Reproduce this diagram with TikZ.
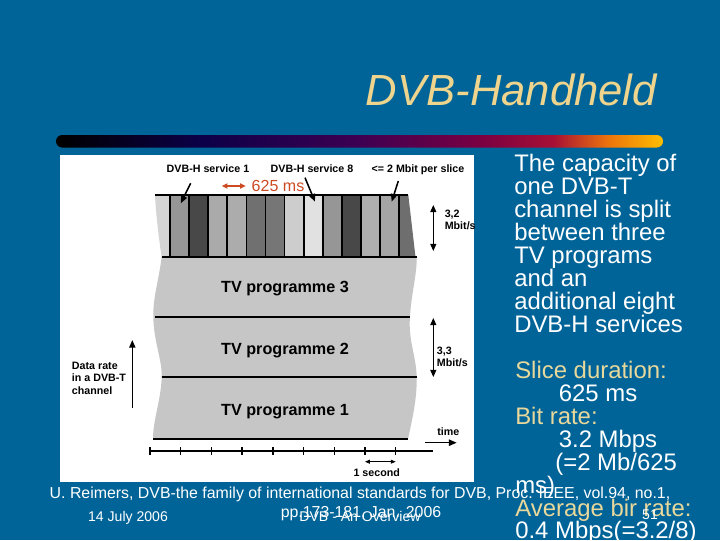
\documentclass[tikz,border=0pt]{standalone}
\usepackage{fontspec}
\setmainfont{Liberation Sans}
\usetikzlibrary{arrows.meta}
\definecolor{slideblue}{RGB}{0,100,152}
\definecolor{titletan}{RGB}{238,212,140}
\definecolor{keytan}{RGB}{232,216,156}
\definecolor{msred}{RGB}{205,75,35}
\definecolor{tvgray}{RGB}{198,198,198}
\definecolor{barnavy}{RGB}{12,0,72}
\definecolor{barpurple}{RGB}{62,0,82}
\definecolor{barwine}{RGB}{122,0,66}
\definecolor{barred}{RGB}{168,16,52}
\definecolor{barorange}{RGB}{236,116,12}
\definecolor{bargold}{RGB}{255,190,0}
\pgfdeclarehorizontalshading{rulebar}{100bp}{color(0bp)=(black); color(25bp)=(black); color(37bp)=(barnavy); color(50bp)=(barpurple); color(60bp)=(barwine); color(66bp)=(barred); color(70.5bp)=(barorange); color(75bp)=(bargold); color(100bp)=(bargold)}
\tikzset{
  titletext/.style={font=\fontsize{31}{36}\selectfont\itshape, text=titletan, inner sep=0pt},
  bodytext/.style={font=\fontsize{17}{16.3}\selectfont, text=white, align=left, inner sep=0pt},
  foottext/.style={font=\fontsize{10}{12}\selectfont, text=white, inner sep=0pt},
  citetext/.style={font=\fontsize{11.3}{13}\selectfont, text=white, inner sep=0pt},
  figlabel/.style={font=\fontsize{7.6}{8.9}\selectfont\bfseries, align=left, inner sep=0pt},
  tvlabel/.style={font=\fontsize{11.5}{13}\selectfont\bfseries, inner sep=0pt},
  mslabel/.style={font=\fontsize{11.4}{13}\selectfont, text=msred, inner sep=0pt},
  band/.style={line width=1.4pt, line cap=butt},
  slotline/.style={line width=1.2pt},
  pointer/.style={line width=1.1pt, -{Triangle[length=5.5pt,width=4.4pt]}},
  ratearrow/.style={line width=0.8pt, {Triangle[length=5pt,width=4.2pt]}-{Triangle[length=5pt,width=4.2pt]}},
  msarrow/.style={line width=1.1pt, draw=msred, {Triangle[length=4pt,width=3.6pt]}-{Triangle[length=4pt,width=3.6pt]}},
  secarrow/.style={line width=0.6pt, {Triangle[length=3.5pt,width=2.8pt]}-{Triangle[length=3.5pt,width=2.8pt]}},
  axisline/.style={line width=1pt},
}

\begin{document}
\begin{tikzpicture}[x=0.025cm,y=-0.025cm]
\useasboundingbox (0,0) rectangle (720,540);
\fill[slideblue] (0,0) rectangle (720,540);
\node[titletext, anchor=base east] (title) at (657,105) {DVB-Handheld};
\shade[shading=rulebar, rounded corners=4.4pt] (56,135) rectangle (663,147.5);
\fill[white] (60,155) rectangle (474,482);
\fill[tvgray] (161.7,257) .. controls (158,285) and (152,300) .. (153.5,322) .. controls (155,345) and (162,360) .. (161.7,377) .. controls (161,400) and (153,420) .. (153,439) -- (408,439) .. controls (412,420) and (417,400) .. (416.7,377) .. controls (416,355) and (408,340) .. (410,317) .. controls (411,295) and (417,275) .. (416.7,257) -- cycle;
\fill[fill={rgb,255:red,212;green,212;blue,212}] (170,195) -- (155,195) .. controls (156,215) and (159,240) .. (161.7,257) -- (170,257) -- cycle;
\foreach \k/\g in {0/150,1/72,2/170,3/172,4/112,5/118,6/205,7/225,8/150,9/72,10/175,11/165}
  \fill[fill={rgb,255:red,\g;green,\g;blue,\g}] (170+19.1*\k,195) rectangle (189.1+19.1*\k,257);
\fill[fill={rgb,255:red,110;green,110;blue,110}] (399.2,195) -- (408.3,195) -- (415.5,257) -- (399.2,257) -- cycle;
\foreach \k in {0,...,12}
  \draw[slotline] (170+19.1*\k,195) -- (170+19.1*\k,257);
\draw[band] (155,195) -- (408.3,195);
\draw[band] (161.7,257) -- (416.7,257);
\draw[band] (155,317) -- (410,317);
\draw[band] (161.7,377) -- (416.7,377);
\draw[band] (153,439) -- (408,439);
\node[figlabel, anchor=base] (svcone) at (208,172.5) {DVB-H service 1};
\node[figlabel, anchor=base] (svceight) at (312,172.5) {DVB-H service 8};
\node[figlabel, anchor=base] (slicecap) at (418,172.5) {<= 2 Mbit per slice};
\node[mslabel, anchor=base] (slicems) at (278,191.7) {625 ms};
\coordinate (msleft) at (221.7,186);
\coordinate (msright) at (245.7,186);
\draw[msarrow] (msleft) -- (msright);
\coordinate (svconefoot) at (190.7,183.3);
\coordinate (svconetip) at (180.7,203.3);
\coordinate (svceightfoot) at (305,177.7);
\coordinate (svceighttip) at (315,201.7);
\coordinate (slicefoot) at (398.3,181);
\coordinate (slicetip) at (391.7,201.7);
\draw[pointer] (svconefoot) -- (svconetip);
\draw[pointer] (svceightfoot) -- (svceighttip);
\draw[pointer] (slicefoot) -- (slicetip);
\node[figlabel, anchor=north west] (hrate) at (444.5,209.3) {3,2\\Mbit/s};
\coordinate (hratetop) at (433.3,205);
\coordinate (hratebot) at (433.3,251);
\draw[ratearrow] (hratetop) -- (hratebot);
\node[tvlabel, anchor=base] (tvthree) at (285,292.3) {TV programme 3};
\node[tvlabel, anchor=base] (tvtwo) at (285,354) {TV programme 2};
\node[tvlabel, anchor=base] (tvone) at (285,415) {TV programme 1};
\node[figlabel, anchor=north west] (tvrate) at (436.7,346.7) {3,3\\Mbit/s};
\coordinate (tvratetop) at (433.3,318);
\coordinate (tvratebot) at (433.3,377);
\draw[ratearrow] (tvratetop) -- (tvratebot);
\node[figlabel, anchor=north west] (datarate) at (71.7,361.7) {Data rate\\in a DVB-T\\channel};
\coordinate (datafoot) at (132.3,408);
\coordinate (datatip) at (132.3,340);
\draw[pointer] (datafoot) -- (datatip);
\draw[axisline] (150,451) -- (433,451);
\foreach \k in {0,...,8}
  \draw[axisline] (150+30.7*\k,447) -- (150+30.7*\k,455);
\node[figlabel, anchor=base] (timelabel) at (448.3,435) {time};
\coordinate (timefoot) at (425,442.7);
\coordinate (timetip) at (456.7,442.7);
\draw[pointer] (timefoot) -- (timetip);
\coordinate (secleft) at (365,461.7);
\coordinate (secright) at (395.7,461.7);
\draw[secarrow] (secleft) -- (secright);
\node[figlabel, anchor=base] (seclabel) at (376.7,476) {1 second};
\node[bodytext, anchor=north west] (capacity) at (514,154.3) {The capacity of\\one DVB-T\\channel is split\\between three\\TV programs\\and an\\additional eight\\DVB-H services};
\node[bodytext, anchor=north west] (rates) at (515,360.9) {\textcolor{keytan}{Slice duration:}\\\hspace*{31pt}625 ms\\\textcolor{keytan}{Bit rate:}\\\hspace*{31pt}3.2 Mbps\\\hspace*{28.5pt}(=2 Mb/625\\ms)\\\textcolor{keytan}{Average bir rate:}\\0.4 Mbps(=3.2/8)};
\node[citetext, anchor=base] (citeone) at (360,498) {U. Reimers, DVB-the family of international standards for DVB, Proc. IEEE, vol.94, no.1,};
\node[citetext, anchor=base] (citetwo) at (361,517) {pp.173-181, Jan. 2006};
\node[foottext, anchor=base] (date) at (128,521) {14 July 2006};
\node[foottext, anchor=base] (talk) at (360,521) {DVB - An Overview};
\node[foottext, anchor=base] (page) at (650,519) {51};
\end{tikzpicture}
\end{document}
